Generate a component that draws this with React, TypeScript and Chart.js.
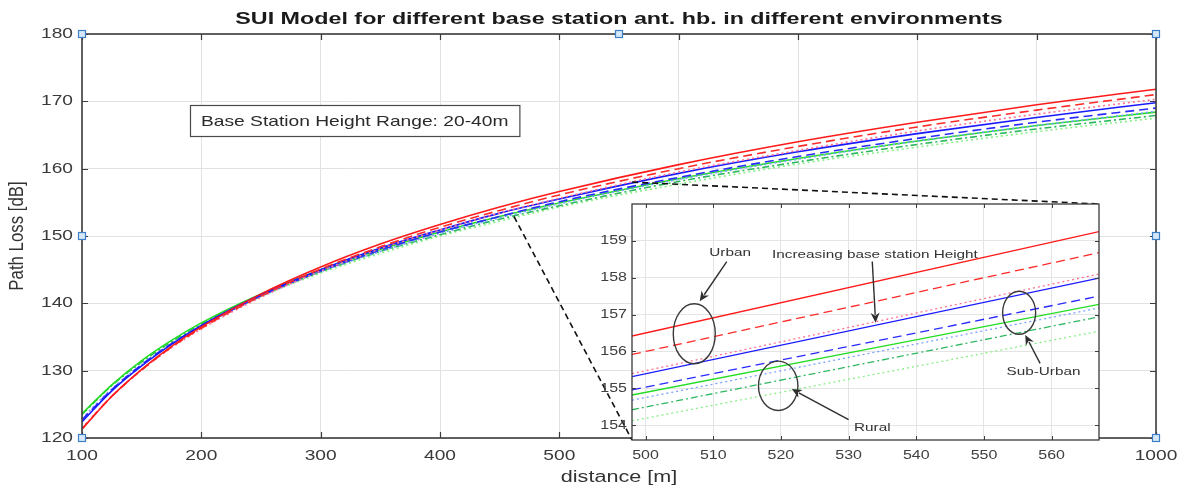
import React, { useEffect, useRef } from "react";
import { Chart, registerables } from "chart.js";

Chart.register(...registerables);

// ---------------- data ----------------
const distance = [100, 125, 150, 175, 200, 250, 300, 350, 400, 450, 500, 600, 700, 800, 900, 1000];

const urbanH20 = [121.3, 126.2, 130.2, 133.6, 136.5, 141.4, 145.4, 148.8, 151.7, 154.3, 156.6, 160.6, 164.0, 166.9, 169.5, 171.8];
const urbanH30 = [121.4, 126.2, 130.1, 133.5, 136.3, 141.1, 145.1, 148.4, 151.3, 153.8, 156.1, 160.0, 163.3, 166.2, 168.7, 171.0];
const urbanH40 = [121.5, 126.2, 130.1, 133.4, 136.2, 140.9, 144.8, 148.1, 150.9, 153.4, 155.6, 159.5, 162.7, 165.6, 168.1, 170.3];
const suburbanH20 = [122.4, 127.0, 130.7, 133.9, 136.7, 141.3, 145.0, 148.2, 150.9, 153.4, 155.5, 159.3, 162.5, 165.2, 167.6, 169.8];
const suburbanH30 = [122.7, 127.2, 130.9, 134.0, 136.6, 141.1, 144.8, 147.9, 150.6, 152.9, 155.1, 158.7, 161.8, 164.5, 166.9, 169.0];
const suburbanH40 = [122.9, 127.3, 130.9, 134.0, 136.6, 141.0, 144.7, 147.7, 150.4, 152.7, 154.8, 158.4, 161.4, 164.1, 166.4, 168.5];
const ruralH20 = [123.6, 127.9, 131.5, 134.5, 137.1, 141.4, 145.0, 148.0, 150.6, 152.9, 154.9, 158.5, 161.5, 164.1, 166.4, 168.4];
const ruralH30 = [123.5, 127.8, 131.3, 134.3, 136.9, 141.2, 144.7, 147.7, 150.2, 152.5, 154.5, 158.1, 161.0, 163.6, 165.9, 167.9];
const ruralH40 = [123.5, 127.8, 131.2, 134.2, 136.7, 141.0, 144.5, 147.4, 150.0, 152.2, 154.3, 157.7, 160.7, 163.2, 165.5, 167.5];

const xTicksMain = [100, 200, 300, 400, 500, 600, 700, 800, 900, 1000];
const yTicksMain = [120, 130, 140, 150, 160, 170, 180];

// zoomed inset
const insetDistance = [498, 567];
const insetUrbanH20 = [156.42, 159.25];
const insetUrbanH30 = [155.92, 158.68];
const insetUrbanH40 = [155.40, 158.10];
const insetSuburbanH20 = [155.32, 157.99];
const insetSuburbanH30 = [154.96, 157.50];
const insetSuburbanH40 = [154.68, 157.18];
const insetRuralH20 = [154.82, 157.28];
const insetRuralH30 = [154.42, 156.94];
const insetRuralH40 = [154.12, 156.55];

const xTicksInset = [500, 510, 520, 530, 540, 550, 560];
const yTicksInset = [154, 155, 156, 157, 158, 159];

// ---------------- texts ----------------
const titleText = "SUI Model for different base station ant. hb. in different environments";
const xTitle = "distance [m]";
const yTitle = "Path Loss [dB]";
const boxText = "Base Station Height Range: 20-40m";

// ---------------- styles ----------------
const seriesStyles = [
  { label: "Urban 20m", color: "#ff1a1a", dash: [] as number[] },
  { label: "Urban 30m", color: "#ff2a2a", dash: [9, 5] },
  { label: "Urban 40m", color: "#ff7090", dash: [2, 3] },
  { label: "Sub-Urban 20m", color: "#1a1aff", dash: [] as number[] },
  { label: "Sub-Urban 30m", color: "#2a2aff", dash: [9, 5] },
  { label: "Sub-Urban 40m", color: "#7aa0ff", dash: [2, 3] },
  { label: "Rural 20m", color: "#22dd22", dash: [] as number[] },
  { label: "Rural 30m", color: "#30b860", dash: [7, 3, 2, 3] },
  { label: "Rural 40m", color: "#88ee88", dash: [2, 3] },
];
const mainSeries = [urbanH20, urbanH30, urbanH40, suburbanH20, suburbanH30, suburbanH40, ruralH20, ruralH30, ruralH40];
const insetSeries = [insetUrbanH20, insetUrbanH30, insetUrbanH40, insetSuburbanH20, insetSuburbanH30, insetSuburbanH40, insetRuralH20, insetRuralH30, insetRuralH40];

// annotation anchors (inset data units)
const insetNotes = [
  { text: "Urban", x: 512.5, y: 158.68 },
  { text: "Increasing base station Height", x: 533.9, y: 158.62 },
  { text: "Sub-Urban", x: 558.8, y: 155.46 },
  { text: "Rural", x: 533.5, y: 153.92 },
];
const insetEllipses = [
  { x: 507.2, y: 156.48, rx: 21, ry: 30 },
  { x: 555.2, y: 157.05, rx: 16.5, ry: 21.5 },
  { x: 519.6, y: 155.07, rx: 19.7, ry: 24.7 },
];
const insetArrows = [
  { x1: 512.0, y1: 158.44, x2: 508.0, y2: 157.36 },
  { x1: 533.5, y1: 158.44, x2: 534.0, y2: 156.78 },
  { x1: 558.3, y1: 155.68, x2: 556.1, y2: 156.45 },
  { x1: 530.0, y1: 154.15, x2: 521.6, y2: 154.98 },
];
// main-chart anchors of the dashed zoom connectors and the text box
const connectorTop = { x: 561, y: 158.0 };
const connectorBottom = { x: 462, y: 152.9 };
const boxAnchor = { x: 190.5, y: 169.45 };

const INSET_LEFT = 590;
const INSET_TOP = 195;
const INSET_W = 520;
const INSET_H = 275;

const FONT = '"Liberation Sans", Arial, sans-serif';

function drawText(
  ctx: CanvasRenderingContext2D,
  text: string,
  x: number,
  y: number,
  font: string,
  color: string,
  align: CanvasTextAlign,
  sx: number,
  rotate = 0,
  sy = 1
) {
  ctx.save();
  ctx.translate(x, y);
  if (rotate) ctx.rotate(rotate);
  ctx.scale(sx, sy);
  ctx.font = font;
  ctx.fillStyle = color;
  ctx.textAlign = align;
  ctx.textBaseline = "middle";
  ctx.fillText(text, 0, 0);
  ctx.restore();
}

function drawArrow(ctx: CanvasRenderingContext2D, x1: number, y1: number, x2: number, y2: number) {
  const ang = Math.atan2(y2 - y1, x2 - x1);
  const L = 10;
  const W = 4.5;
  ctx.save();
  ctx.strokeStyle = "#2e2e2e";
  ctx.fillStyle = "#2e2e2e";
  ctx.lineWidth = 1.4;
  ctx.beginPath();
  ctx.moveTo(x1, y1);
  ctx.lineTo(x2 - Math.cos(ang) * L * 0.8, y2 - Math.sin(ang) * L * 0.8);
  ctx.stroke();
  ctx.beginPath();
  ctx.moveTo(x2, y2);
  ctx.lineTo(x2 - Math.cos(ang) * L - Math.sin(ang) * W, y2 - Math.sin(ang) * L + Math.cos(ang) * W);
  ctx.lineTo(x2 - Math.cos(ang) * L * 0.7, y2 - Math.sin(ang) * L * 0.7);
  ctx.lineTo(x2 - Math.cos(ang) * L + Math.sin(ang) * W, y2 - Math.sin(ang) * L - Math.cos(ang) * W);
  ctx.closePath();
  ctx.fill();
  ctx.restore();
}

function makeDatasets(xs: number[], series: number[][], width: number) {
  return series.map((vals, i) => ({
    label: seriesStyles[i].label,
    data: xs.map((x, j) => ({ x, y: vals[j] })),
    borderColor: seriesStyles[i].color,
    borderDash: seriesStyles[i].dash,
    borderWidth: width,
    pointRadius: 0,
    fill: false,
    cubicInterpolationMode: "monotone" as const,
  }));
}

export default function App() {
  const mainRef = useRef<HTMLCanvasElement>(null);
  const insetRef = useRef<HTMLCanvasElement>(null);

  useEffect(() => {
    const insetDecor = {
      id: "insetDecor",
      beforeDraw(chart: any) {
        const { ctx, chartArea: a } = chart;
        ctx.save();
        ctx.fillStyle = "#ffffff";
        ctx.fillRect(a.left, a.top, a.right - a.left, a.bottom - a.top);
        ctx.fillRect(a.left - 10, a.bottom, a.right - a.left + 20, 28);
        ctx.restore();
      },
      afterDraw(chart: any) {
        const { ctx, chartArea: a, scales } = chart;
        const xs = scales.x;
        const ys = scales.y;
        ctx.save();
        ctx.strokeStyle = "#3c3c3c";
        ctx.lineWidth = 1;
        ctx.beginPath();
        xTicksInset.forEach((v) => {
          const px = Math.round(xs.getPixelForValue(v)) + 0.5;
          ctx.moveTo(px, a.bottom);
          ctx.lineTo(px, a.bottom - 4);
          ctx.moveTo(px, a.top);
          ctx.lineTo(px, a.top + 4);
        });
        yTicksInset.forEach((v) => {
          const py = Math.round(ys.getPixelForValue(v)) + 0.5;
          ctx.moveTo(a.left, py);
          ctx.lineTo(a.left + 4, py);
          ctx.moveTo(a.right, py);
          ctx.lineTo(a.right - 4, py);
        });
        ctx.stroke();
        ctx.strokeStyle = "#3a3a3a";
        ctx.lineWidth = 1.3;
        ctx.strokeRect(a.left, a.top, a.right - a.left, a.bottom - a.top);
        xTicksInset.forEach((v) => {
          drawText(ctx, String(v), xs.getPixelForValue(v), a.bottom + 16, `12px ${FONT}`, "#404040", "center", 1.33);
        });
        yTicksInset.forEach((v) => {
          drawText(ctx, String(v), a.left - 5, ys.getPixelForValue(v), `12px ${FONT}`, "#404040", "right", 1.33);
        });
        ctx.strokeStyle = "#3a3a3a";
        ctx.lineWidth = 1.4;
        insetEllipses.forEach((e) => {
          ctx.beginPath();
          ctx.ellipse(xs.getPixelForValue(e.x), ys.getPixelForValue(e.y), e.rx, e.ry, 0, 0, Math.PI * 2);
          ctx.stroke();
        });
        insetArrows.forEach((r) => {
          drawArrow(ctx, xs.getPixelForValue(r.x1), ys.getPixelForValue(r.y1), xs.getPixelForValue(r.x2), ys.getPixelForValue(r.y2));
        });
        insetNotes.forEach((n) => {
          drawText(ctx, n.text, xs.getPixelForValue(n.x), ys.getPixelForValue(n.y), `11.5px ${FONT}`, "#333333", "center", 1.33);
        });
        ctx.restore();
      },
    };

    const inset = new Chart(insetRef.current as HTMLCanvasElement, {
      type: "line",
      data: { datasets: makeDatasets(insetDistance, insetSeries, 1.3) as any },
      options: {
        responsive: false,
        animation: false,
        events: [],
        layout: { padding: { left: 0, top: 9, right: INSET_W - 509, bottom: 0 } },
        plugins: { legend: { display: false }, tooltip: { enabled: false }, title: { display: false } },
        scales: {
          x: {
            type: "linear",
            min: 498,
            max: 567,
            afterBuildTicks: (s: any) => {
              s.ticks = xTicksInset.map((v) => ({ value: v }));
            },
            afterFit: (s: any) => {
              s.height = 30;
            },
            ticks: { display: false },
            grid: { color: "#e4e4e4", drawTicks: false },
            border: { display: false },
          },
          y: {
            type: "linear",
            min: 153.6,
            max: 160,
            afterBuildTicks: (s: any) => {
              s.ticks = yTicksInset.map((v) => ({ value: v }));
            },
            afterFit: (s: any) => {
              s.width = 42;
            },
            ticks: { display: false },
            grid: { color: "#e4e4e4", drawTicks: false },
            border: { display: false },
          },
        },
      } as any,
      plugins: [insetDecor],
    });

    const mainDecor = {
      id: "mainDecor",
      afterDraw(chart: any) {
        const { ctx, chartArea: a, scales } = chart;
        const xs = scales.x;
        const ys = scales.y;
        ctx.save();
        ctx.strokeStyle = "#3c3c3c";
        ctx.lineWidth = 1.2;
        ctx.beginPath();
        xTicksMain.forEach((v) => {
          const px = Math.round(xs.getPixelForValue(v)) + 0.5;
          ctx.moveTo(px, a.bottom);
          ctx.lineTo(px, a.bottom - 6);
          ctx.moveTo(px, a.top);
          ctx.lineTo(px, a.top + 6);
        });
        yTicksMain.forEach((v) => {
          const py = Math.round(ys.getPixelForValue(v)) + 0.5;
          ctx.moveTo(a.left, py);
          ctx.lineTo(a.left + 6, py);
          ctx.moveTo(a.right, py);
          ctx.lineTo(a.right - 6, py);
        });
        ctx.stroke();
        ctx.strokeStyle = "#3c3c3c";
        ctx.lineWidth = 1.6;
        ctx.strokeRect(a.left, a.top, a.right - a.left, a.bottom - a.top);
        xTicksMain.forEach((v) => {
          drawText(ctx, String(v), xs.getPixelForValue(v), a.bottom + 18, `14px ${FONT}`, "#3a3a3a", "center", 1.37);
        });
        yTicksMain.forEach((v) => {
          drawText(ctx, String(v), a.left - 9, ys.getPixelForValue(v), `14px ${FONT}`, "#3a3a3a", "right", 1.37);
        });
        drawText(ctx, xTitle, (a.left + a.right) / 2, 478, `16px ${FONT}`, "#333333", "center", 1.35);
        drawText(ctx, yTitle, 17, (a.top + a.bottom) / 2, `16px ${FONT}`, "#333333", "center", 1.05, -Math.PI / 2, 1.25);
        drawText(ctx, titleText, (a.left + a.right) / 2, 19, `bold 17px ${FONT}`, "#1a1a1a", "center", 1.37);
        const bx = xs.getPixelForValue(boxAnchor.x);
        const by = ys.getPixelForValue(boxAnchor.y);
        ctx.font = `15px ${FONT}`;
        const tw = ctx.measureText(boxText).width * 1.28;
        const bw = tw + 22;
        const bh = 31;
        ctx.fillStyle = "#ffffff";
        ctx.fillRect(bx, by, bw, bh);
        ctx.strokeStyle = "#4a4a4a";
        ctx.lineWidth = 1.2;
        ctx.strokeRect(Math.round(bx) + 0.5, Math.round(by) + 0.5, bw, bh);
        drawText(ctx, boxText, bx + 11, by + bh / 2 + 1, `15px ${FONT}`, "#2a2a2a", "left", 1.28);
        const ia = inset.chartArea;
        if (ia) {
          ctx.strokeStyle = "#111111";
          ctx.lineWidth = 1.6;
          ctx.setLineDash([6, 4]);
          ctx.beginPath();
          ctx.moveTo(xs.getPixelForValue(connectorTop.x), ys.getPixelForValue(connectorTop.y));
          ctx.lineTo(INSET_LEFT + ia.right, INSET_TOP + ia.top);
          ctx.moveTo(xs.getPixelForValue(connectorBottom.x), ys.getPixelForValue(connectorBottom.y));
          ctx.lineTo(INSET_LEFT + ia.left, INSET_TOP + ia.bottom);
          ctx.stroke();
          ctx.setLineDash([]);
        }
        const mx = (a.left + a.right) / 2;
        const my = (a.top + a.bottom) / 2;
        const handles = [
          [a.left, a.top], [mx, a.top], [a.right, a.top],
          [a.left, my], [a.right, my],
          [a.left, a.bottom], [a.right, a.bottom],
        ];
        handles.forEach(([hx, hy]) => {
          ctx.fillStyle = "#d5e8f8";
          ctx.fillRect(hx - 3.5, hy - 3.5, 7, 7);
          ctx.strokeStyle = "#3d7fc4";
          ctx.lineWidth = 1.2;
          ctx.strokeRect(hx - 3.5, hy - 3.5, 7, 7);
        });
        ctx.restore();
      },
    };

    const main = new Chart(mainRef.current as HTMLCanvasElement, {
      type: "line",
      data: { datasets: makeDatasets(distance, mainSeries, 1.6) as any },
      options: {
        responsive: false,
        animation: false,
        events: [],
        layout: { padding: { left: 0, top: 34, right: 28, bottom: 0 } },
        plugins: { legend: { display: false }, tooltip: { enabled: false }, title: { display: false } },
        scales: {
          x: {
            type: "linear",
            min: 100,
            max: 1000,
            afterBuildTicks: (s: any) => {
              s.ticks = xTicksMain.map((v) => ({ value: v }));
            },
            afterFit: (s: any) => {
              s.height = 55;
            },
            ticks: { display: false },
            grid: { color: "#e2e2e2", drawTicks: false },
            border: { display: false },
          },
          y: {
            type: "linear",
            min: 120,
            max: 180,
            afterBuildTicks: (s: any) => {
              s.ticks = yTicksMain.map((v) => ({ value: v }));
            },
            afterFit: (s: any) => {
              s.width = 82;
            },
            ticks: { display: false },
            grid: { color: "#e2e2e2", drawTicks: false },
            border: { display: false },
          },
        },
      } as any,
      plugins: [mainDecor],
    });

    return () => {
      main.destroy();
      inset.destroy();
    };
  }, []);

  return (
    <div style={{ position: "fixed", left: 0, top: 0, width: 1184, height: 493, background: "#ffffff", overflow: "hidden" }}>
      <canvas
        ref={mainRef}
        width={1184}
        height={493}
        style={{ position: "absolute", left: 0, top: 0, width: 1184, height: 493 }}
      />
      <canvas
        ref={insetRef}
        width={INSET_W}
        height={INSET_H}
        style={{ position: "absolute", left: INSET_LEFT, top: INSET_TOP, width: INSET_W, height: INSET_H }}
      />
    </div>
  );
}
